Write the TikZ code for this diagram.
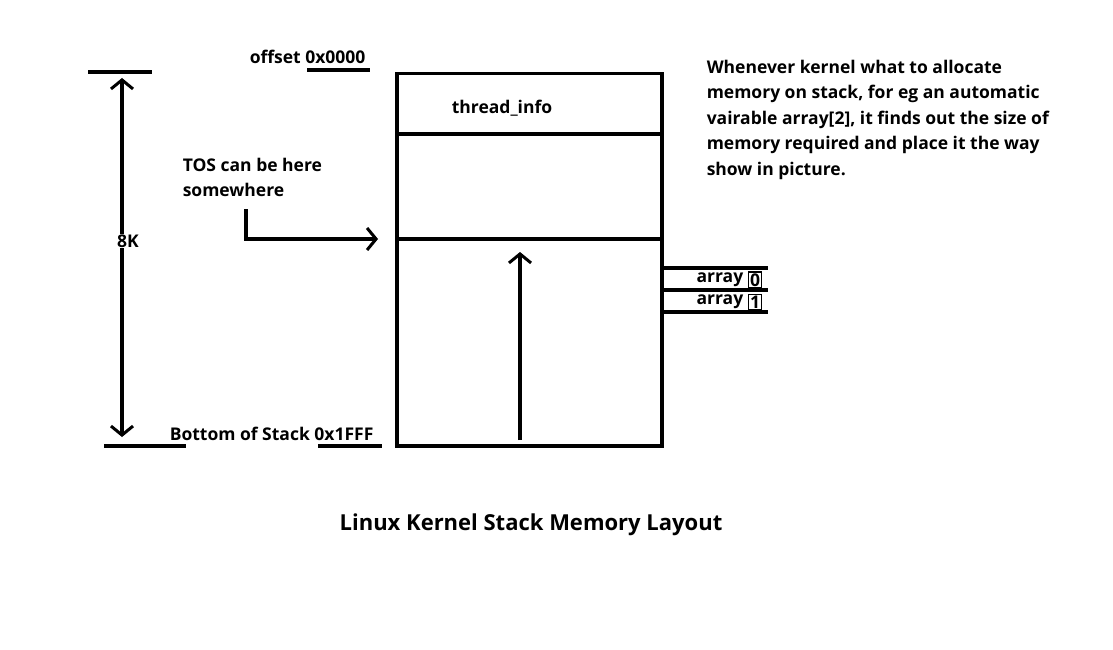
\documentclass[tikz,border=0pt]{standalone}
\usepackage{fontspec}
\setmainfont{Open Sans}
\usetikzlibrary{arrows.meta}
\begin{document}
\begin{tikzpicture}[x=1pt,y=-1pt,line width=3.5pt,
  txt/.style={font=\bfseries\fontsize{17.5}{20}\selectfont,inner sep=0pt},
  barb/.style={-{Straight Barb[length=9pt,width=22pt,line width=3pt]}}]
\useasboundingbox (0,0) rectangle (1113,650);
\node[draw,minimum width=265pt,minimum height=372pt,inner sep=0pt,anchor=north west] (box) at (395,72) {};
\coordinate (t1) at (395,134); \coordinate (t2) at (660,134);
\draw (t1) -- (t2);
\coordinate (s1) at (395,239); \coordinate (s2) at (660,239);
\draw (s1) -- (s2);
\node[txt] (ti) at (502,108) {thread\_info};
\coordinate (a1) at (660,268); \coordinate (a1e) at (768,268);
\coordinate (a2) at (660,290); \coordinate (a2e) at (768,290);
\coordinate (a3) at (660,312); \coordinate (a3e) at (768,312);
\draw (a1) -- (a1e); \draw (a2) -- (a2e); \draw (a3) -- (a3e);
\node[txt,anchor=east] (ar0) at (745,280) {array};
\node[txt,draw,line width=1.5pt,inner sep=1.5pt] (b0) at (755,280) {0};
\node[txt,anchor=east] (ar1) at (745,302) {array};
\node[txt,draw,line width=1.5pt,inner sep=1.5pt] (b1) at (755,302) {1};
% up arrow
\coordinate (u0) at (520,440); \coordinate (u1) at (520,252);
\draw[barb] (u0) -- (u1);
% TOS arrow
\node[txt,align=left,anchor=north west] (tos) at (181,156) {TOS can be here\\[5pt]somewhere};
\coordinate (p0) at (246,209); \coordinate (p1) at (246,239); \coordinate (p2) at (378,239);
\draw[barb] (p0) -- (p1) -- (p2);
% 8K
\coordinate (tb1) at (88,72); \coordinate (tb2) at (152,72);
\coordinate (bb1) at (104,446); \coordinate (bb2) at (186,446);
\draw (tb1) -- (tb2); \draw (bb1) -- (bb2);
\coordinate (k0) at (122,78); \coordinate (k1) at (122,437);
\draw[{Straight Barb[length=9pt,width=22pt,line width=3pt]}-{Straight Barb[length=9pt,width=22pt,line width=3pt]}] (k0) -- (k1);
\node[txt,fill=white,inner sep=1pt] (k) at (128,241) {8K};
% offsets
\node[txt,anchor=west] (off) at (248,57) {offset 0x0000};
\coordinate (o1) at (307,70); \coordinate (o2) at (370,70);
\draw (o1) -- (o2);
\node[txt,anchor=west] (bot) at (168,434) {Bottom of Stack 0x1FFF};
\coordinate (bo1) at (318,446); \coordinate (bo2) at (382,446);
\draw (bo1) -- (bo2);
\node[txt,align=left,anchor=north west] (note) at (705,58) {Whenever kernel what to allocate\\[5.5pt]memory on stack, for eg an automatic\\[5.5pt]vairable array[2], it finds out the size of\\[5.5pt]memory required and place it the way\\[5.5pt]show in picture.};
\node[font=\bfseries\fontsize{22}{24}\selectfont] (title) at (531,525) {Linux Kernel Stack Memory Layout};
\end{tikzpicture}
\end{document}
